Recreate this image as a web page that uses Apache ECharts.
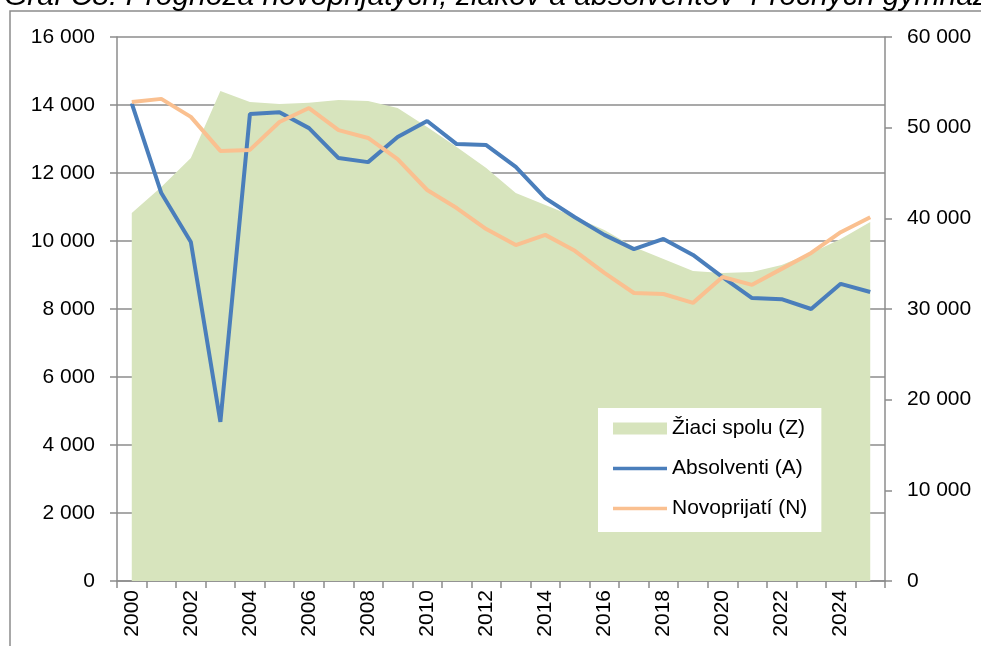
<!DOCTYPE html>
<html>
<head>
<meta charset="utf-8">
<title>Graf C8</title>
<script src="https://cdn.jsdelivr.net/npm/echarts@6/dist/echarts.min.js"></script>
<style>
html, body { margin: 0; padding: 0; background: #fff; }
#chart { width: 981px; height: 646px; }
</style>
</head>
<body>
<div id="chart"></div>
<script>
// roky
var years = ['2000','2001','2002','2003','2004','2005','2006','2007','2008','2009',
	'2010','2011','2012','2013','2014','2015','2016','2017','2018','2019',
	'2020','2021','2022','2023','2024','2025'];
// Žiaci spolu (pravá os)
var ziaci = [40600, 43450, 46650, 54040, 52830, 52600, 52750, 53050, 52940, 52170,
	50070, 47870, 45550, 42790, 41470, 40150, 38710, 36840, 35510, 34190,
	33970, 34080, 34850, 36170, 37720, 39590];
// Absolventi (ľavá os)
var absolventi = [14050, 11410, 9970, 4680, 13735, 13790, 13320, 12440, 12320, 13060,
	13530, 12850, 12820, 12180, 11260, 10700, 10180, 9760, 10060, 9590,
	8940, 8320, 8290, 8000, 8740, 8500];
// Novoprijatí (ľavá os)
var novoprijati = [14090, 14180, 13650, 12650, 12680, 13500, 13910, 13260, 13030, 12410,
	11500, 10970, 10350, 9880, 10180, 9710, 9060, 8470, 8440, 8180,
	8940, 8710, 9180, 9650, 10260, 10700];

var titleText = 'Graf C8: Prognóza novoprijatých, žiakov a absolventov 4-ročných gymnázií';

var gridColor = '#8c8c8c';
var font = 'Liberation Sans, Arial, sans-serif';
// tenký pruh v strede ikony legendy (čiara), body hore a dole len na rozmer
var lineIcon = 'path://M0,0 L0.01,0 Z M0,4.2 L54,4.2 L54,7.8 L0,7.8 Z M0,12 L0.01,12 Z';

function fmt(v) {
	return String(v).replace(/\B(?=(\d{3})+(?!\d))/g, ' ');
}

var chart = echarts.init(document.getElementById('chart'));
chart.setOption({
	animation: false,
	textStyle: { fontFamily: font },
	graphic: [
		{
			type: 'text', left: 4, top: -18, silent: true,
			style: { text: titleText, font: 'italic 30px ' + font, fill: '#000' }
		},
		{
			type: 'rect', silent: true, z: -1,
			shape: { x: 10, y: 11, width: 1100, height: 800 },
			style: { fill: 'none', stroke: gridColor, lineWidth: 1.5 }
		}
	],
	grid: { left: 117, right: 96, top: 37, bottom: 65 },
	legend: {
		orient: 'vertical',
		left: 598, top: 408,
		padding: [10, 14, 13, 15],
		backgroundColor: '#fff',
		itemWidth: 54, itemHeight: 12, itemGap: 19,
		textStyle: { fontSize: 21, color: '#000', fontFamily: font },
		data: [
			{ name: 'Žiaci spolu (Z)', icon: 'rect' },
			{ name: 'Absolventi (A)', icon: lineIcon },
			{ name: 'Novoprijatí (N)', icon: lineIcon }
		]
	},
	xAxis: {
		type: 'category',
		data: years,
		boundaryGap: true,
		axisLine: { lineStyle: { color: gridColor, width: 1.5 } },
		axisTick: { show: true, interval: 0, length: 7, lineStyle: { color: gridColor, width: 1.5 } },
		axisLabel: { interval: 1, rotate: 90, margin: 9, fontSize: 21, color: '#000' },
		splitLine: { show: false }
	},
	yAxis: [
		{
			type: 'value', min: 0, max: 16000, interval: 2000,
			axisLine: { show: true, lineStyle: { color: gridColor, width: 1.5 } },
			axisTick: { show: true, length: 7, lineStyle: { color: gridColor, width: 1.5 } },
			axisLabel: { formatter: fmt, margin: 22, fontSize: 21, color: '#000' },
			splitLine: { show: true, lineStyle: { color: gridColor, width: 1.5 } }
		},
		{
			type: 'value', min: 0, max: 60000, interval: 10000, position: 'right',
			axisLine: { show: true, lineStyle: { color: gridColor, width: 1.5 } },
			axisTick: { show: true, length: 7, lineStyle: { color: gridColor, width: 1.5 } },
			axisLabel: { formatter: fmt, margin: 22, fontSize: 21, color: '#000' },
			splitLine: { show: false }
		}
	],
	series: [
		{
			name: 'Žiaci spolu (Z)', type: 'line', yAxisIndex: 1,
			data: ziaci, symbol: 'none',
			itemStyle: { color: '#d7e4bd' },
			lineStyle: { width: 0, color: '#d7e4bd' },
			areaStyle: { color: '#d7e4bd', opacity: 1 }
		},
		{
			name: 'Absolventi (A)', type: 'line', yAxisIndex: 0,
			data: absolventi, symbol: 'none',
			itemStyle: { color: '#4a7ebb' },
			lineStyle: { width: 4, color: '#4a7ebb' }
		},
		{
			name: 'Novoprijatí (N)', type: 'line', yAxisIndex: 0,
			data: novoprijati, symbol: 'none',
			itemStyle: { color: '#fac090' },
			lineStyle: { width: 4, color: '#fac090' }
		}
	]
});
</script>
</body>
</html>
